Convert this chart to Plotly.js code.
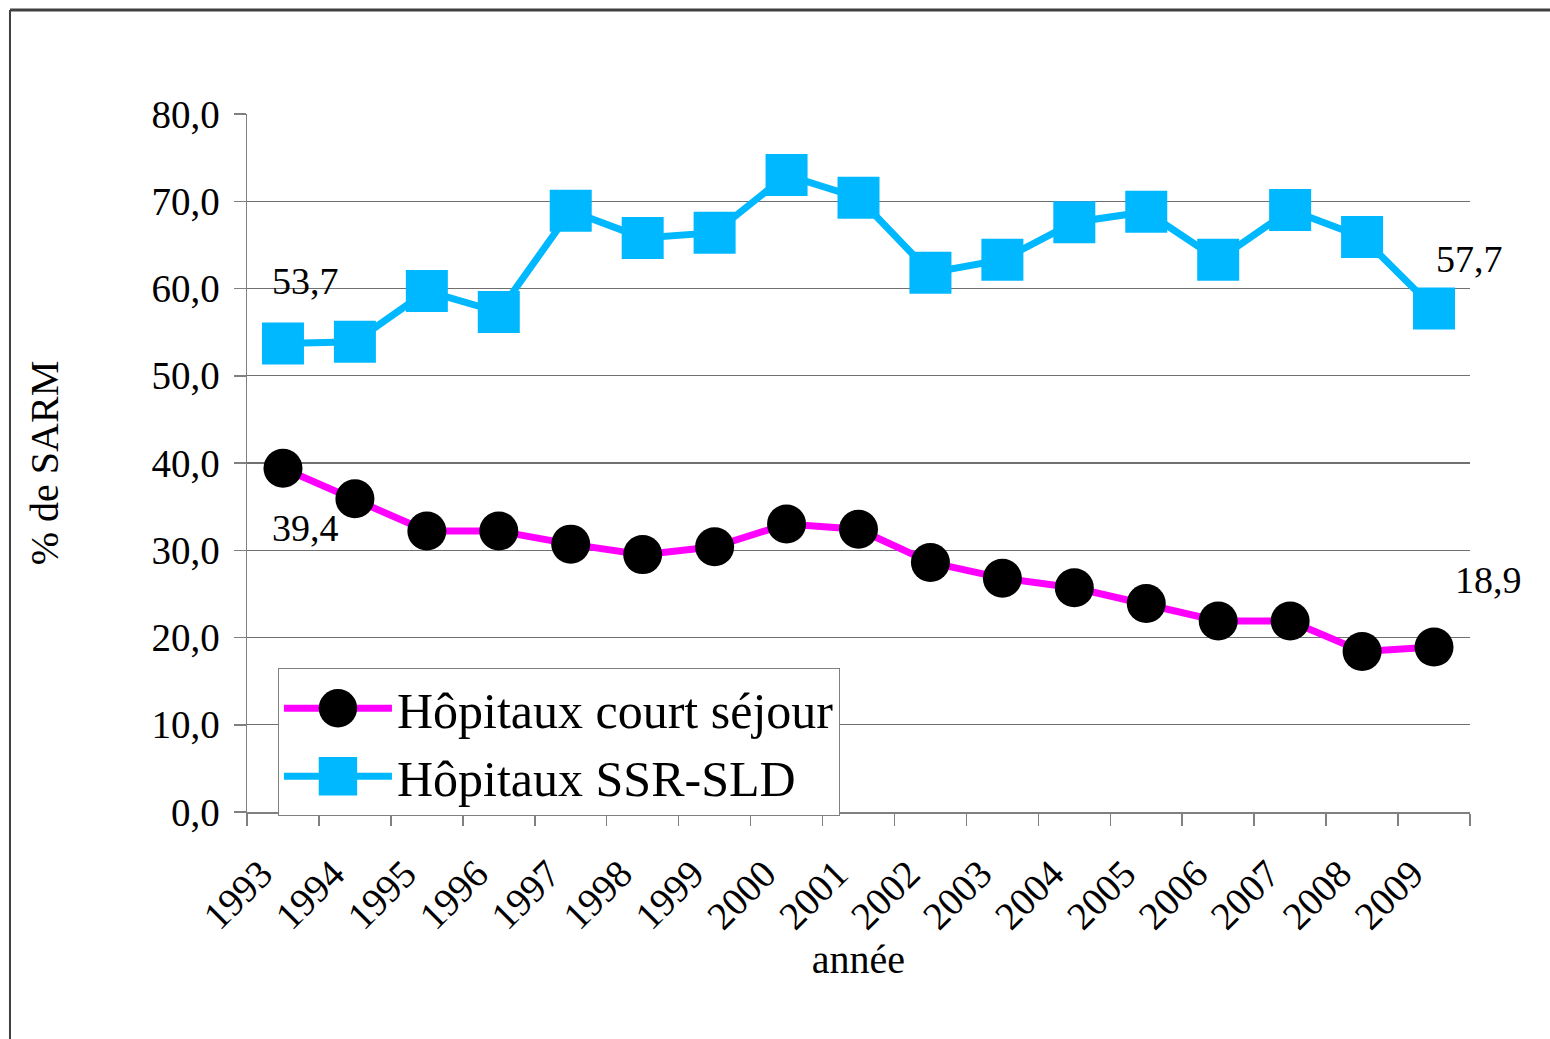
<!DOCTYPE html>
<html>
<head>
<meta charset="utf-8">
<script src="https://cdn.plot.ly/plotly-3.0.1.min.js"></script>
<style>
html,body{margin:0;padding:0;background:#fff;}
#chart{width:1550px;height:1039px;}
</style>
</head>
<body>
<div id="chart"></div>
<script>
const years = ["1993","1994","1995","1996","1997","1998","1999","2000","2001","2002","2003","2004","2005","2006","2007","2008","2009"];
const courtSejour = [39.4,35.9,32.2,32.2,30.7,29.5,30.4,33.0,32.4,28.6,26.8,25.7,23.9,21.9,21.9,18.4,18.9];
const ssrSld = [53.7,53.9,59.7,57.3,68.9,65.8,66.4,73.0,70.4,61.8,63.3,67.6,68.8,63.3,69.0,65.9,57.7];
const seriesNames = ["Hôpitaux court séjour","Hôpitaux SSR-SLD"];
const yTitle = "% de SARM";
const xTitle = "année";

const FONT = "Liberation Serif, Times New Roman, serif";
const fmt = v => v.toFixed(1).replace(".", ",");
const last = years.length - 1;

const traces = [
  {
    x: years, y: courtSejour, name: seriesNames[0], type: "scatter", mode: "lines+markers",
    line: {color: "#FF00FF", width: 7},
    marker: {symbol: "circle", size: 39, color: "#000000"},
    cliponaxis: false, hoverinfo: "x+y"
  },
  {
    x: years, y: ssrSld, name: seriesNames[1], type: "scatter", mode: "lines+markers",
    line: {color: "#00B8FF", width: 7},
    marker: {symbol: "square", size: 42, color: "#00B8FF"},
    cliponaxis: false, hoverinfo: "x+y"
  }
];

const annFont = {family: FONT, size: 38, color: "#000"};
const annotations = [
  {x: 0, y: ssrSld[0], text: fmt(ssrSld[0]), xshift: 23, yshift: 62},
  {x: 0, y: courtSejour[0], text: fmt(courtSejour[0]), xshift: 23, yshift: -60},
  {x: last, y: ssrSld[last], text: fmt(ssrSld[last]), xshift: 35, yshift: 50},
  {x: last, y: courtSejour[last], text: fmt(courtSejour[last]), xshift: 54, yshift: 67}
].map(a => Object.assign({xref: "x", yref: "y", showarrow: false, font: annFont}, a));

const layout = {
  width: 1550, height: 1039,
  margin: {l: 247, r: 80, t: 114, b: 227, pad: 0},
  paper_bgcolor: "#fff", plot_bgcolor: "#fff",
  separators: ", ",
  font: {family: FONT, size: 38, color: "#000"},
  showlegend: true,
  legend: {
    x: 0.0253, y: 0.206, xanchor: "left", yanchor: "top",
    bgcolor: "#fff", bordercolor: "#808080", borderwidth: 1,
    font: {family: FONT, size: 50, color: "#000"},
    itemwidth: 108, tracegroupgap: 0
  },
  xaxis: {
    type: "category", range: [-0.5, 16.5],
    tickson: "boundaries", ticks: "outside", ticklen: 12, tickwidth: 1.5, tickcolor: "#808080",
    showline: true, linecolor: "#808080", linewidth: 1.5,
    showgrid: false, zeroline: false,
    tickangle: -45, tickfont: {family: FONT, size: 39, color: "#000"},
    ticklabelstandoff: 22, ticklabelshift: -22,
    title: {text: xTitle, font: {family: FONT, size: 40, color: "#000"}, standoff: 0}
  },
  yaxis: {
    range: [0, 80], dtick: 10, tick0: 0, tickformat: ".1f",
    ticks: "outside", ticklen: 12, tickwidth: 1.5, tickcolor: "#808080",
    showline: true, linecolor: "#808080", linewidth: 1.5,
    showgrid: true, gridcolor: "#707070", gridwidth: 1.2,
    zeroline: false,
    tickfont: {family: FONT, size: 39, color: "#000"},
    ticklabelstandoff: 6,
    title: {text: yTitle, font: {family: FONT, size: 40, color: "#000"}, standoff: 80}
  },
  annotations: annotations,
  shapes: [
    {type: "line", xref: "paper", yref: "paper", x0: -0.1938, x1: 1.07, y0: 1.149, y1: 1.149, line: {color: "#404040", width: 3}},
    {type: "line", xref: "paper", yref: "paper", x0: -0.1938, x1: -0.1938, y0: 1.149, y1: -0.33, line: {color: "#404040", width: 2}}
  ]
};

Plotly.newPlot("chart", traces, layout, {displayModeBar: false, staticPlot: true}).then(gd => {
  // enlarge legend symbols to match the reference's big markers
  gd.querySelectorAll(".legend .legendpoints path.scatterpts").forEach(p => {
    const t = p.getAttribute("transform") || "";
    p.setAttribute("transform", t + " scale(2.4)");
  });
});
</script>
</body>
</html>
